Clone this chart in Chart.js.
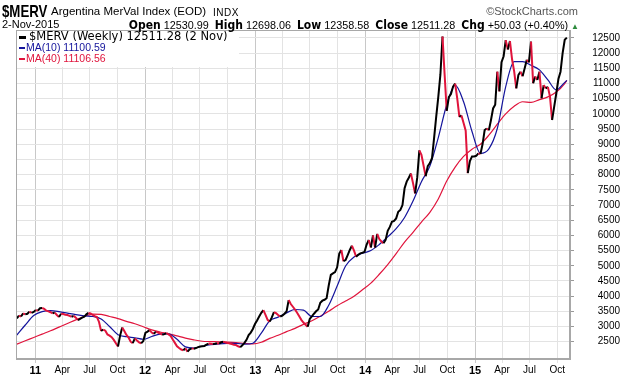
<!DOCTYPE html>
<html>
<head>
<meta charset="utf-8">
<script src="https://cdn.jsdelivr.net/npm/chart.js@4.4.0/dist/chart.umd.min.js"></script>
<style>
  body { margin: 0; background: #fff; }
  #wrap { position: relative; width: 620px; height: 376px; overflow: hidden; font-family: "Liberation Sans", Arial, sans-serif; }
  #myChart { position: absolute; left: 0; top: 0; }
  .hd { position: absolute; white-space: nowrap; color: #000; line-height: 1; }
  .nb { font-family: "Liberation Sans Narrow", "DejaVu Sans Condensed", sans-serif; font-weight: bold; }
</style>
</head>
<body>
<div id="wrap">
  <canvas id="myChart" width="620" height="376"></canvas>
  <div class="hd" style="left:2px;top:2px;font:bold 17px 'Liberation Sans', Arial;transform:scaleX(0.78);transform-origin:0 0">$MERV</div>
  <div class="hd" style="left:51px;top:6px;font-size:11.5px">Argentina MerVal Index (EOD)</div>
  <div class="hd" style="left:213px;top:8px;font-size:10px;letter-spacing:0.5px">INDX</div>
  <div class="hd" style="right:42px;top:6px;font-size:11px;color:#555">&copy;StockCharts.com</div>
  <div class="hd" style="left:2px;top:19px;font-size:11px">2-Nov-2015</div>
  <div class="hd" style="right:41px;top:19px;font-size:10.8px">
    <span class="nb" style="font-size:12px">Open</span> 12530.99&nbsp;
    <span class="nb" style="font-size:12px">High</span> 12698.06&nbsp;
    <span class="nb" style="font-size:12px">Low</span> 12358.58&nbsp;
    <span class="nb" style="font-size:12px">Close</span> 12511.28&nbsp;
    <span class="nb" style="font-size:12px">Chg</span> +50.03 (+0.40%) <span style="color:#2e8b3e;font-size:8px">&#9650;</span>
  </div>
</div>

<script>
// weekly closes, first bar = week of 1 Nov 2010, last bar = 2 Nov 2015
const closes = [
  3270, 3360, 3330, 3430, 3400, 3420, 3490, 3450, 3480, 3540,   // w0
  3520, 3600, 3610, 3580, 3520, 3500, 3470, 3430, 3460, 3380,   // w10
  3310, 3420, 3410, 3390, 3380, 3350, 3320, 3350, 3290, 3210,   // w20
  3250, 3290, 3320, 3400, 3450, 3430, 3380, 3340, 3310, 3150,   // w30
  2850, 2900, 2860, 2740, 2700, 2650, 2560, 2450, 2340, 2700,   // w40
  2970, 2850, 2720, 2640, 2500, 2450, 2610, 2540, 2480, 2450,   // w50
  2520, 2790, 2830, 2880, 2800, 2760, 2830, 2800, 2770, 2730,   // w60
  2750, 2780, 2740, 2690, 2570, 2460, 2350, 2290, 2240, 2220,   // w70
  2280, 2170, 2250, 2280, 2270, 2290, 2320, 2340, 2350, 2360,   // w80
  2400, 2440, 2430, 2420, 2430, 2450, 2440, 2480, 2500, 2470,   // w90
  2460, 2440, 2420, 2400, 2390, 2350, 2320, 2380, 2460, 2560,   // w100
  2720, 2800, 2920, 3080, 3200, 3330, 3450, 3540, 3380, 3220,   // w110
  3160, 3300, 3470, 3440, 3380, 3330, 3360, 3420, 3500, 3870,   // w120
  3740, 3650, 3560, 3450, 3340, 3220, 3130, 3060, 2990, 3250,   // w130
  3330, 3420, 3500, 3560, 3780, 3850, 3880, 3930, 4350, 4700,   // w140
  4750, 4790, 4950, 5400, 5520, 5150, 5190, 5350, 5520, 5660,   // w150
  5500, 5300, 5360, 5410, 5430, 5460, 5700, 5850, 5600, 6000,   // w160
  5600, 6050, 5880, 5800, 5740, 5850, 6150, 6280, 6450, 6480,   // w170
  6560, 6780, 6840, 7000, 7550, 7770, 7900, 8040, 7720, 7380,   // w180
  7900, 8800, 8650, 8300, 7950, 8280, 8380, 8540, 9200, 9900,   // w190
  10560, 11300, 12550, 11300, 10100, 10550, 10650, 10900, 11000, 10500, // w200
  9900, 9950, 9700, 9450, 8050, 8450, 8600, 8600, 8620, 8700,   // w210
  8680, 9000, 9470, 9520, 9460, 9800, 10180, 10300, 11390, 10740, // w220
  11700, 11900, 12430, 12120, 12400, 11800, 11400, 10840, 11280, 11390, // w230
  11240, 11500, 11780, 11700, 12380, 11010, 11230, 11120, 11390, 10510, // w240
  10950, 10840, 10890, 10570, 9800, 10240, 10680, 11150, 11390, 12000,  // w250
  12440, 12511                                                    // w260
];

// moving averages read every 4 weeks
const maWeeks = [0, 4, 8, 12, 16, 20, 24, 28, 32, 36, 40, 44, 48, 52, 56, 60, 64, 68, 72, 76,
  80, 84, 88, 92, 96, 100, 104, 108, 112, 116, 120, 124, 128, 132, 136, 140, 144, 148, 152, 156,
  160, 164, 168, 172, 176, 180, 184, 188, 192, 196, 200, 204, 208, 212, 216, 220, 224, 228, 232, 236,
  240, 244, 248, 252, 256, 260, 261];
const ma10 = [2720, 3050, 3360, 3490, 3520, 3490, 3440, 3390, 3350, 3330, 3250, 3000, 2730, 2665, 2630, 2580, 2670, 2750, 2760, 2580,
  2330, 2290, 2350, 2400, 2430, 2445, 2445, 2420, 2450, 2780, 3190, 3310, 3450, 3560, 3540, 3330, 3330, 3700, 4330, 4990,
  5290, 5410, 5500, 5700, 5950, 6220, 6590, 7130, 7770, 8280, 9220, 10300, 10950, 10400, 9420, 8700, 8850, 9520, 10900, 11720,
  11720, 11600, 11450, 11120, 10790, 11040, 11100.59];
const ma40 = [2420, 2530, 2640, 2750, 2860, 2980, 3100, 3220, 3330, 3410, 3400, 3330, 3260, 3170, 3090, 2990, 2890, 2820, 2760, 2690,
  2620, 2560, 2515, 2505, 2495, 2485, 2470, 2445, 2425, 2480, 2610, 2710, 2830, 2940, 3070, 3190, 3340, 3500, 3680, 3840,
  4000, 4210, 4430, 4720, 5040, 5400, 5780, 6100, 6440, 6760, 7200, 7790, 8250, 8600, 8840, 9000, 9300, 9660, 10000, 10250,
  10400, 10380, 10470, 10560, 10720, 11000, 11106.56];

const tickDates = ['2011-01-01', '2011-04-01', '2011-07-01', '2011-10-01', '2012-01-01', '2012-04-01', '2012-07-01', '2012-10-01',
  '2013-01-01', '2013-04-01', '2013-07-01', '2013-10-01', '2014-01-01', '2014-04-01', '2014-07-01', '2014-10-01',
  '2015-01-01', '2015-04-01', '2015-07-01', '2015-10-01'];
const tickLabels = ['11', 'Apr', 'Jul', 'Oct', '12', 'Apr', 'Jul', 'Oct', '13', 'Apr', 'Jul', 'Oct',
  '14', 'Apr', 'Jul', 'Oct', '15', 'Apr', 'Jul', 'Oct'];
const yTicks = [2500, 3000, 3500, 4000, 4500, 5000, 5500, 6000, 6500, 7000, 7500, 8000, 8500, 9000, 9500,
  10000, 10500, 11000, 11500, 12000, 12500];

const RED = '#e0143c';
const BLUE = '#14149c';
const startDay = Date.UTC(2010, 10, 1);
function weekOf(d) {
  return (Date.parse(d + 'T00:00:00Z') - startDay) / 604800000;
}
function isYear(i) {
  return /^\d/.test(tickLabels[i] || '');
}

// legend box in the top left corner of the plot + frame
const legendBox = {
  id: 'legendBox',
  afterDraw(chart) {
    const c = chart.ctx, a = chart.chartArea;
    c.save();
    c.fillStyle = '#fff';
    c.fillRect(a.left + 1, a.top + 1, 222, 36);
    c.textBaseline = 'middle';
    c.fillStyle = '#000';
    c.fillRect(a.left + 3, a.top + 6, 7, 3);
    c.font = '11.5px "DejaVu Sans"';
    c.fillText('$MERV (Weekly) 12511.28 (2 Nov)', a.left + 13, a.top + 7.5);
    c.font = '10.5px "Liberation Sans"';
    c.fillStyle = BLUE;
    c.fillRect(a.left + 3, a.top + 17, 6, 2);
    c.fillText('MA(10) 11100.59', a.left + 10, a.top + 18.5);
    c.fillStyle = RED;
    c.fillRect(a.left + 3, a.top + 28, 6, 2);
    c.fillText('MA(40) 11106.56', a.left + 10, a.top + 29.5);
    c.strokeStyle = '#a8a8a8';
    c.lineWidth = 1;
    c.strokeRect(a.left + 0.5, a.top + 0.5, a.right - a.left - 1, a.bottom - a.top - 1);
    c.restore();
  }
};

var ctx = document.getElementById('myChart');
var chart = new Chart(ctx, {
  type: 'line',
  data: {
    datasets: [{
      label: '$MERV',
      data: closes.map((v, i) => ({ x: i, y: v })),
      borderColor: '#000',
      borderWidth: 2,
      pointRadius: 0,
      tension: 0,
      segment: {
        borderColor: s => s.p1.parsed.y < s.p0.parsed.y ? RED : '#000'
      }
    }, {
      label: 'MA(10)',
      data: maWeeks.map((w, i) => ({ x: w, y: ma10[i] })),
      borderColor: BLUE,
      borderWidth: 1.2,
      pointRadius: 0,
      cubicInterpolationMode: 'monotone'
    }, {
      label: 'MA(40)',
      data: maWeeks.map((w, i) => ({ x: w, y: ma40[i] })),
      borderColor: RED,
      borderWidth: 1.2,
      pointRadius: 0,
      cubicInterpolationMode: 'monotone'
    }]
  },
  options: {
    responsive: false,
    animation: false,
    devicePixelRatio: 1,
    layout: { padding: { left: 16, top: 30, right: 0, bottom: 0 } },
    plugins: { legend: { display: false }, tooltip: { enabled: false } },
    scales: {
      x: {
        type: 'linear',
        min: -0.4,
        max: 262.5,
        afterBuildTicks: s => { s.ticks = tickDates.map(d => ({ value: weekOf(d) })); },
        afterFit: s => { s.height = 17; },
        border: { color: '#a8a8a8' },
        grid: {
          color: c => isYear(c.index) ? '#c8c8c8' : '#e3e3e3',
          tickColor: c => isYear(c.index) ? '#c8c8c8' : '#e3e3e3',
          tickLength: 4
        },
        ticks: {
          autoSkip: false,
          maxRotation: 0,
          padding: 1,
          color: '#000',
          callback: (v, i) => tickLabels[i],
          font: c => ({ family: '"Liberation Sans", Arial', size: isYear(c.index) ? 11 : 10, weight: isYear(c.index) ? 'bold' : 'normal' })
        }
      },
      y: {
        type: 'linear',
        position: 'right',
        min: 1930,
        max: 12763,
        afterBuildTicks: s => { s.ticks = yTicks.map(v => ({ value: v })); },
        afterFit: s => { s.width = 50; },
        border: { color: '#a8a8a8' },
        grid: { color: '#e3e3e3', tickColor: '#999', tickLength: 4 },
        ticks: {
          padding: 1,
          color: '#000',
          crossAlign: 'far',
          callback: v => String(v),
          font: { family: '"Liberation Sans", Arial', size: 10 }
        }
      }
    }
  },
  plugins: [legendBox]
});
</script>
</body>
</html>
